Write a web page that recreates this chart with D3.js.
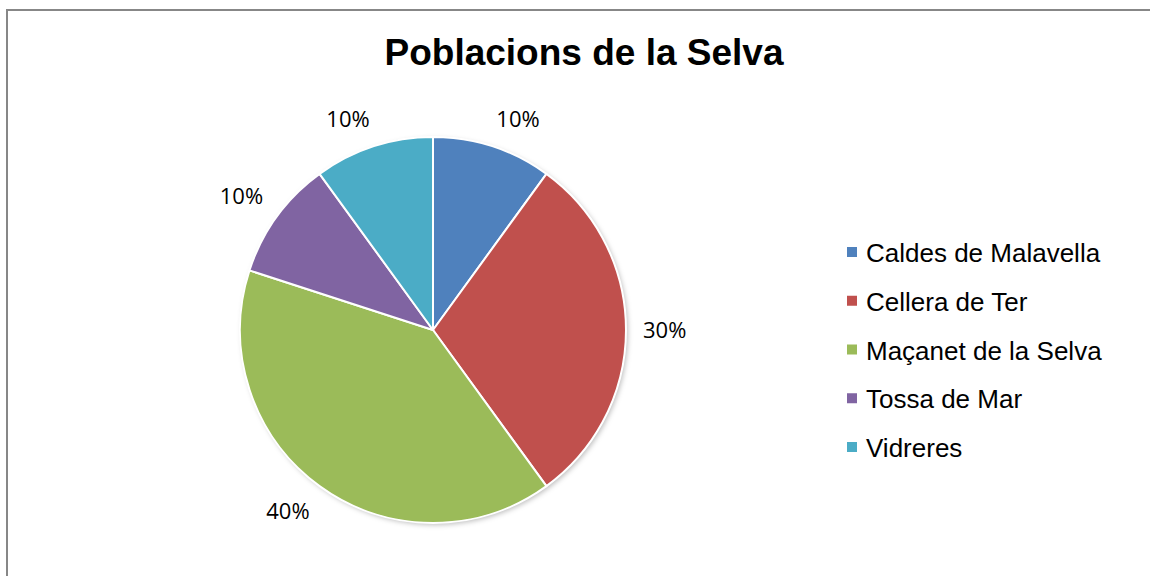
<!DOCTYPE html>
<html>
<head>
<meta charset="utf-8">
<script src="https://cdn.jsdelivr.net/npm/d3@7"></script>
<style>
  html, body { margin: 0; padding: 0; background: #fff; }
  svg { display: block; }
</style>
</head>
<body>
<svg id="chart" width="1150" height="576"></svg>
<script>
const title = "Poblacions de la Selva";
const categories = ["Caldes de Malavella", "Cellera de Ter", "Maçanet de la Selva", "Tossa de Mar", "Vidreres"];
const values = [1, 3, 4, 1, 1];
const colors = ["#4F81BD", "#C0504D", "#9BBB59", "#8064A2", "#4BACC6"];

const svg = d3.select("#chart");
const W = 1150, H = 576;

// chart border (extends past right/bottom edge)
svg.append("rect")
  .attr("x", 7).attr("y", 10)
  .attr("width", W + 20).attr("height", H + 20)
  .attr("fill", "#fff")
  .attr("stroke", "#878787").attr("stroke-width", 2);

// title
svg.append("text")
  .attr("x", 584).attr("y", 65)
  .attr("text-anchor", "middle")
  .attr("font-family", "'Liberation Sans', Arial, sans-serif")
  .attr("font-weight", "bold")
  .attr("font-size", 37)
  .attr("fill", "#000")
  .text(title);

// shadow filter
const defs = svg.append("defs");
const f = defs.append("filter").attr("id", "shadow")
  .attr("x", "-20%").attr("y", "-20%").attr("width", "140%").attr("height", "140%");
f.append("feDropShadow").attr("dx", 2).attr("dy", 2).attr("stdDeviation", 2.5)
  .attr("flood-color", "#000").attr("flood-opacity", 0.25);

const cx = 433, cy = 330, R = 193;
const total = d3.sum(values);
const data = categories.map((c, i) => ({ name: c, value: values[i], color: colors[i] }));

const pie = d3.pie().value(d => d.value).sort(null);
const arcs = pie(data);
const arc = d3.arc().innerRadius(0).outerRadius(R);

const g = svg.append("g").attr("transform", `translate(${cx},${cy})`);

g.append("circle").attr("r", R).attr("fill", "#fff").attr("filter", "url(#shadow)");

g.selectAll("path.slice")
  .data(arcs)
  .join("path")
  .attr("class", "slice")
  .attr("d", arc)
  .attr("fill", d => d.data.color)
  .attr("stroke", "#fff")
  .attr("stroke-width", 2)
  .attr("stroke-linejoin", "round");

// percent labels: box placed just outside the pie along the mid-angle
const labelR = R + 17;
const fmt = d3.format(".0%");
const clamp = v => Math.max(-1, Math.min(1, v * 3));
const labels = g.selectAll("text.pct")
  .data(arcs)
  .join("text")
  .attr("class", "pct")
  .attr("text-anchor", "middle")
  .attr("dy", "0.36em")
  .attr("font-family", "'Open Sans', Lato, sans-serif")
  .attr("font-size", 22)
  .attr("fill", "#000")
  .text(d => fmt(d.data.value / total));
labels.each(function(d) {
  const a = (d.startAngle + d.endAngle) / 2;
  const bb = this.getBBox();
  const s = Math.sin(a), c = Math.cos(a);
  const x = labelR * s + clamp(s) * bb.width / 2;
  const y = -labelR * c + clamp(-c) * 11;
  d3.select(this).attr("x", x).attr("y", y);
});

// legend
const legY = d3.scalePoint().domain(categories).range([262, 457]);
const leg = svg.append("g");
const items = leg.selectAll("g.item").data(data).join("g").attr("class", "item")
  .attr("transform", d => `translate(847,${legY(d.name)})`);
items.append("rect")
  .attr("x", 0).attr("y", -15)
  .attr("width", 10).attr("height", 10)
  .attr("fill", d => d.color);
items.append("text")
  .attr("x", 19).attr("y", 0)
  .attr("font-family", "'Liberation Sans', Arial, sans-serif")
  .attr("font-size", 26)
  .attr("fill", "#000")
  .text(d => d.name);
</script>
</body>
</html>
